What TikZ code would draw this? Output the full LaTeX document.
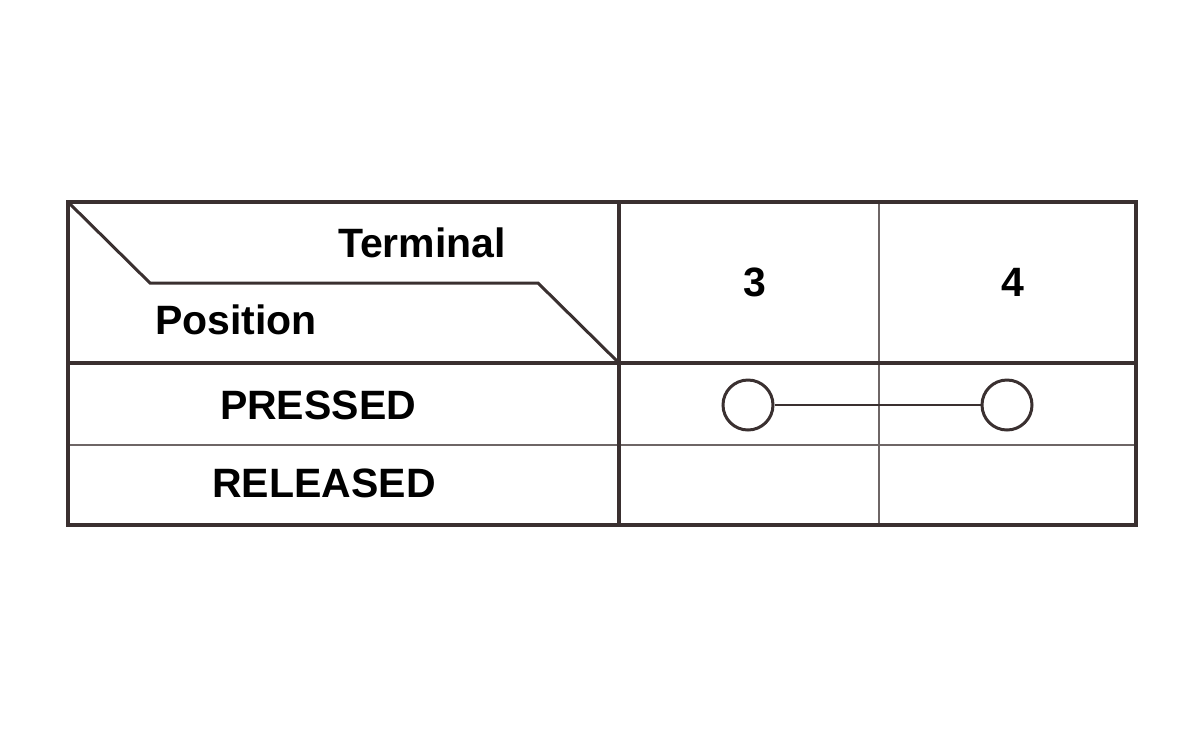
\documentclass[tikz,border=0pt]{standalone}
\usepackage{fontspec}
\setmainfont{Liberation Sans}
\definecolor{rule}{RGB}{58,48,48}
\definecolor{thinrule}{RGB}{110,102,102}
\tikzset{
  label/.style={font=\fontsize{20.5}{24}\selectfont\bfseries},
  contact/.style={circle,draw=rule,line width=1.5pt,
                  minimum size=25pt,inner sep=0pt}
}
\begin{document}
\begin{tikzpicture}[x=0.5pt,y=-0.5pt]
  \useasboundingbox (0,0) rectangle (1200,730);
  % grid
  \draw[thinrule,line width=1.2pt]
    (879,202) -- (879,525)
    (68,445) -- (1136,445);
  \draw[rule,line width=1.8pt]
    (68,202) rectangle (1136,525);
  \draw[rule,line width=1.8pt]
    (619,202) -- (619,525)
    (68,363) -- (1136,363);
  \draw[rule,line width=1.5pt]
    (68,202) -- (150,283) -- (538,283)
    -- (619,363);
  % heads
  \node[label] (term) at (422,243) {Terminal};
  \node[label] (pos) at (236,320) {Position};
  \node[label] (t3) at (755,282) {3};
  \node[label] (t4) at (1013,282) {4};
  \node[label] (pr) at (318,405) {PRESSED};
  \node[label] (rel) at (324,483) {RELEASED};
  % contacts
  \node[contact] (c3) at (748,405) {};
  \node[contact] (c4) at (1007,405) {};
  \draw[rule,line width=1.4pt] (c3) -- (c4);
\end{tikzpicture}
\end{document}
